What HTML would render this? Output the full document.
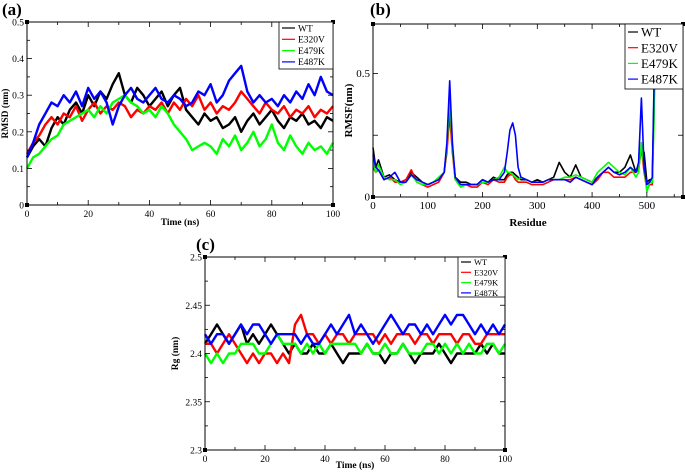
<!DOCTYPE html>
<html><head><meta charset="utf-8"><style>
body{margin:0;background:#fff;width:685px;height:470px;overflow:hidden}
svg text{font-family:"Liberation Serif",serif}
</style></head><body>
<svg id="fig" width="685" height="470"></svg>
<script>
const timeA=[0,2,4,6,8,10,12,14,16,18,20,22,24,26,28,30,32,34,36,38,40,42,44,46,48,50,52,54,56,58,60,62,64,66,68,70,72,74,76,78,80,82,84,86,88,90,92,94,96,98,100];
const rmsdWT=[0.13,0.16,0.18,0.16,0.21,0.24,0.22,0.26,0.28,0.25,0.30,0.27,0.31,0.29,0.33,0.36,0.30,0.28,0.32,0.30,0.27,0.29,0.31,0.27,0.30,0.32,0.26,0.24,0.22,0.25,0.23,0.24,0.21,0.22,0.24,0.20,0.23,0.25,0.22,0.24,0.26,0.23,0.21,0.24,0.23,0.25,0.22,0.23,0.21,0.24,0.23];
const rmsdE320V=[0.14,0.17,0.19,0.22,0.24,0.22,0.25,0.24,0.27,0.23,0.26,0.28,0.25,0.27,0.26,0.28,0.27,0.24,0.26,0.25,0.27,0.26,0.28,0.25,0.28,0.26,0.29,0.27,0.30,0.26,0.28,0.25,0.27,0.26,0.28,0.31,0.29,0.27,0.25,0.28,0.26,0.25,0.27,0.24,0.26,0.25,0.27,0.24,0.26,0.25,0.27];
const rmsdE479K=[0.10,0.13,0.14,0.16,0.18,0.19,0.22,0.23,0.24,0.25,0.26,0.24,0.27,0.25,0.28,0.29,0.30,0.28,0.27,0.25,0.26,0.24,0.27,0.25,0.22,0.20,0.18,0.15,0.16,0.17,0.16,0.14,0.18,0.16,0.19,0.15,0.17,0.20,0.16,0.18,0.22,0.17,0.15,0.19,0.16,0.14,0.17,0.15,0.16,0.14,0.17];
const rmsdE487K=[0.13,0.17,0.22,0.25,0.28,0.27,0.30,0.28,0.31,0.27,0.32,0.29,0.31,0.28,0.22,0.27,0.30,0.32,0.29,0.28,0.30,0.32,0.29,0.28,0.30,0.29,0.27,0.28,0.31,0.30,0.33,0.28,0.30,0.34,0.36,0.38,0.31,0.28,0.30,0.28,0.29,0.27,0.30,0.28,0.31,0.29,0.33,0.30,0.35,0.31,0.30];
const residues=[0,5,10,20,30,40,50,60,70,80,90,100,110,120,130,135,140,145,150,160,170,180,190,200,210,220,230,240,245,250,255,260,265,270,280,290,300,310,320,330,340,350,360,370,380,390,400,410,420,430,440,450,460,470,480,485,490,495,500,505,510,513,516];
const rmsfWT=[0.2,0.12,0.15,0.08,0.09,0.07,0.06,0.07,0.1,0.08,0.06,0.05,0.06,0.07,0.1,0.2,0.36,0.2,0.08,0.06,0.06,0.05,0.05,0.07,0.06,0.08,0.07,0.07,0.09,0.1,0.1,0.09,0.08,0.07,0.07,0.06,0.07,0.06,0.07,0.08,0.14,0.1,0.08,0.13,0.08,0.07,0.06,0.08,0.1,0.12,0.1,0.1,0.12,0.17,0.1,0.12,0.2,0.18,0.06,0.07,0.07,0.4,0.7];
const rmsfE320V=[0.12,0.1,0.11,0.07,0.08,0.06,0.06,0.07,0.11,0.06,0.05,0.04,0.05,0.06,0.1,0.18,0.33,0.18,0.07,0.05,0.05,0.04,0.04,0.06,0.05,0.07,0.06,0.06,0.08,0.09,0.09,0.07,0.06,0.06,0.06,0.05,0.05,0.05,0.06,0.07,0.07,0.07,0.07,0.08,0.07,0.06,0.05,0.07,0.1,0.1,0.08,0.08,0.08,0.1,0.1,0.11,0.2,0.1,0.03,0.05,0.05,0.35,0.7];
const rmsfE479K=[0.14,0.1,0.13,0.08,0.07,0.07,0.05,0.06,0.09,0.06,0.05,0.05,0.06,0.08,0.1,0.2,0.4,0.2,0.07,0.04,0.05,0.05,0.05,0.06,0.06,0.07,0.08,0.12,0.1,0.1,0.09,0.08,0.07,0.08,0.07,0.06,0.06,0.06,0.07,0.07,0.07,0.08,0.08,0.09,0.08,0.07,0.06,0.1,0.12,0.14,0.12,0.1,0.09,0.12,0.08,0.1,0.22,0.12,0.02,0.06,0.06,0.3,0.7];
const rmsfE487K=[0.17,0.12,0.11,0.07,0.08,0.1,0.06,0.06,0.09,0.07,0.06,0.05,0.06,0.07,0.1,0.22,0.47,0.22,0.08,0.05,0.05,0.05,0.05,0.07,0.06,0.07,0.07,0.1,0.18,0.27,0.3,0.25,0.12,0.08,0.07,0.06,0.06,0.06,0.07,0.07,0.07,0.07,0.06,0.08,0.07,0.06,0.05,0.08,0.1,0.12,0.1,0.09,0.1,0.12,0.1,0.14,0.4,0.12,0.05,0.06,0.08,0.45,0.7];
const rgWT=[2.41,2.42,2.43,2.42,2.41,2.42,2.43,2.41,2.42,2.41,2.42,2.43,2.42,2.41,2.40,2.41,2.40,2.40,2.41,2.40,2.40,2.41,2.40,2.39,2.40,2.40,2.40,2.41,2.40,2.40,2.39,2.40,2.40,2.41,2.40,2.39,2.40,2.40,2.40,2.41,2.40,2.39,2.40,2.40,2.40,2.40,2.41,2.40,2.41,2.40,2.40];
const rgE320V=[2.41,2.41,2.40,2.41,2.42,2.41,2.40,2.39,2.40,2.39,2.40,2.40,2.39,2.40,2.39,2.43,2.44,2.42,2.42,2.41,2.42,2.41,2.42,2.42,2.41,2.42,2.42,2.42,2.42,2.41,2.42,2.41,2.42,2.42,2.42,2.41,2.42,2.42,2.41,2.42,2.42,2.42,2.41,2.42,2.42,2.41,2.41,2.42,2.42,2.42,2.42];
const rgE479K=[2.40,2.39,2.40,2.39,2.40,2.40,2.41,2.41,2.41,2.40,2.40,2.41,2.42,2.41,2.41,2.41,2.40,2.41,2.40,2.41,2.40,2.41,2.41,2.41,2.41,2.41,2.40,2.41,2.40,2.40,2.41,2.40,2.40,2.41,2.40,2.40,2.40,2.41,2.41,2.40,2.41,2.40,2.41,2.40,2.41,2.40,2.40,2.41,2.41,2.40,2.41];
const rgE487K=[2.42,2.41,2.42,2.42,2.41,2.42,2.43,2.42,2.43,2.43,2.42,2.41,2.42,2.42,2.42,2.42,2.41,2.42,2.41,2.41,2.42,2.43,2.42,2.43,2.44,2.42,2.43,2.42,2.41,2.42,2.43,2.44,2.43,2.42,2.43,2.43,2.42,2.43,2.42,2.43,2.44,2.43,2.44,2.44,2.43,2.42,2.43,2.42,2.43,2.42,2.43];
const seriesNames=["WT","E320V","E479K","E487K"];
const seriesColors=["#000","#f00","#0f0","#00f"];
const xTicksTime=[0,20,40,60,80,100];
const xTicksRes=[0,100,200,300,400,500];
const yTicksA=[0,0.1,0.2,0.3,0.4,0.5];
const yTicksB=[0,0.5];
const yTicksC=[2.3,2.35,2.4,2.45,2.5];

const NS="http://www.w3.org/2000/svg";
const fig=document.getElementById('fig');
function mk(tag,attrs,parent){const e=document.createElementNS(NS,tag);for(const k in attrs)e.setAttribute(k,attrs[k]);(parent||fig).appendChild(e);return e;}

function panel(o){
  const g=mk('g',{});
  
  
  const sx=v=>o.x0+(v-o.xmin)/(o.xmax-o.xmin)*(o.x1-o.x0);
  const sy=v=>o.y1-(v-o.ymin)/(o.ymax-o.ymin)*(o.y1-o.y0);
  o.series.forEach((ys,i)=>{
    let d='';ys.forEach((v,j)=>{const vv=Math.min(Math.max(v,o.ymin),o.ymax);d+=(j?'L':'M')+sx(o.xs[j]).toFixed(1)+','+sy(vv).toFixed(1);});
    const p=mk('path',{d:d,fill:'none',stroke:seriesColors[i],'stroke-width':o.sw,'stroke-linejoin':'round'},g);
    
    
  });
  const fr=mk('rect',{x:o.x0,y:o.y0,width:o.x1-o.x0,height:o.y1-o.y0,fill:'none',stroke:'#000','stroke-width':1},g);
  
  
  [[o.x0,o.y0],[o.x1,o.y0],[o.x0,o.y1],[o.x1,o.y1]].forEach(c=>mk('rect',{x:c[0]-2,y:c[1]-2,width:4,height:4,fill:'#000'},g));
  const xt=mk('g',{},g);
  
  
  for(let v=o.xmin;v<=o.xmax+1e-9;v+=o.xminor){
    const major=Math.abs(v/o.xmajor-Math.round(v/o.xmajor))<1e-6;const L=major?5:3;
    mk('line',{x1:sx(v),x2:sx(v),y1:o.y1,y2:o.y1-L,stroke:'#000','stroke-width':0.8},xt);
    mk('line',{x1:sx(v),x2:sx(v),y1:o.y0,y2:o.y0+L,stroke:'#000','stroke-width':0.8},xt);
  }
  o.xticks.forEach(v=>{const t=mk('text',{x:sx(v),y:o.y1+12,'font-size':o.fs,'text-anchor':'middle'},xt);t.textContent=v;
    });
  const yt=mk('g',{},g);
  
  
  for(let v=o.ymin;v<=o.ymax+1e-9;v+=o.yminor){
    const major=Math.abs((v-o.ymin)/o.ymajor-Math.round((v-o.ymin)/o.ymajor))<1e-6;const L=major?5:3;
    mk('line',{x1:o.x0,x2:o.x0+L,y1:sy(v),y2:sy(v),stroke:'#000','stroke-width':0.8},yt);
    mk('line',{x1:o.x1,x2:o.x1-L,y1:sy(v),y2:sy(v),stroke:'#000','stroke-width':0.8},yt);
  }
  o.yticks.forEach(v=>{const t=mk('text',{x:o.x0-3,y:sy(v)+3.5,'font-size':o.fs,'text-anchor':'end'},yt);t.textContent=o.yfmt(v);
    });
  const xl=mk('text',{x:(o.x0+o.x1)/2,y:o.xly,'font-size':o.lfs,'font-weight':'bold','text-anchor':'middle'},g);xl.textContent=o.xlabel;
  
  const ylx=o.ylx,yly=(o.y0+o.y1)/2;
  const yl=mk('text',{x:ylx,y:yly,'font-size':o.lfs,'font-weight':'bold','text-anchor':'middle',transform:`rotate(-90 ${ylx} ${yly})`},g);yl.textContent=o.ylabel;
  
  const pl=mk('text',{x:o.px,y:o.py,'font-size':17,'font-weight':'bold'},g);pl.textContent=o.plabel;
  
  const lg=mk('g',{},g);
  
  
  mk('rect',{x:o.lg[0],y:o.lg[1],width:o.lg[2],height:o.lg[3],fill:'#fff',stroke:'#000','stroke-width':0.8},lg);
  seriesNames.forEach((n,i)=>{
    const yy=o.lg[1]+o.lgy0+i*o.lgdy;
    const e=mk('g',{},lg);
    
    
    mk('line',{x1:o.lg[0]+3,x2:o.lg[0]+3+o.lgl,y1:yy,y2:yy,stroke:seriesColors[i],'stroke-width':1.2},e);
    const t=mk('text',{x:o.lg[0]+6+o.lgl,y:yy+o.lfs2*0.35,'font-size':o.lfs2},e);t.textContent=n;
  });
}
panel({name:'rmsd-panel',x0:27,x1:333,y0:22,y1:205,xmin:0,xmax:100,ymin:0,ymax:0.5,xmajor:20,xminor:10,ymajor:0.1,yminor:0.05,
  xs:timeA,series:[rmsdWT,rmsdE320V,rmsdE479K,rmsdE487K],sw:2.4,xticks:xTicksTime,yticks:yTicksA,yfmt:v=>v===0?'0':String(v),
  fs:9.5,lfs:9.5,xlabel:'Time (ns)',xly:225,ylabel:'RMSD (nm)',ylx:8,plabel:'(a)',px:2,py:15,
  lg:[279,22,54,47],lgy0:6,lgdy:11.3,lgl:13,lfs2:9.5});
panel({name:'rmsf-panel',x0:373,x1:683,y0:24,y1:197,xmin:0,xmax:566,ymin:0,ymax:0.7,xmajor:100,xminor:50,ymajor:0.25,yminor:0.25,
  xs:residues,series:[rmsfWT,rmsfE320V,rmsfE479K,rmsfE487K],sw:1.6,xticks:xTicksRes,yticks:yTicksB,yfmt:v=>v===0?'0':String(v),
  fs:11,lfs:11,xlabel:'Residue',xly:226,ylabel:'RMSF(nm)',ylx:352,plabel:'(b)',px:370,py:15,
  lg:[625,24,58,65],lgy0:8,lgdy:15.7,lgl:10,lfs2:13});
panel({name:'rg-panel',x0:205,x1:505,y0:257,y1:450,xmin:0,xmax:100,ymin:2.3,ymax:2.5,xmajor:20,xminor:10,ymajor:0.05,yminor:0.025,
  xs:timeA,series:[rgWT,rgE320V,rgE479K,rgE487K],sw:2.4,xticks:xTicksTime,yticks:yTicksC,yfmt:v=>String(+v.toFixed(2)),
  fs:9.5,lfs:9.5,xlabel:'Time (ns)',xly:468,ylabel:'Rg (nm)',ylx:178,plabel:'(c)',px:196,py:250,
  lg:[458,257,47,40],lgy0:5,lgdy:10.3,lgl:10,lfs2:8.5});
</script>
</body></html>
